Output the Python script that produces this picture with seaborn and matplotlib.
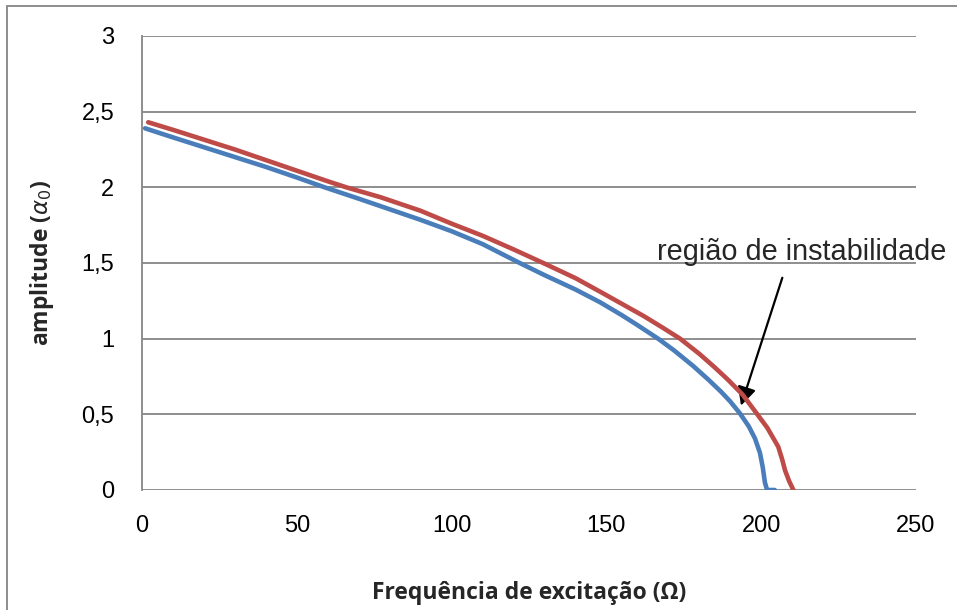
import numpy as np
import pandas as pd
import seaborn as sns
import matplotlib.pyplot as plt
from matplotlib.patches import Rectangle

# values
freq_blue = [1, 10, 20, 30, 40, 50, 59, 70, 80, 90, 100, 110, 122, 130, 140, 148, 155,
             160, 166.7, 172, 178, 182.9, 187, 190, 193.1, 196, 198, 199.6, 200.5,
             201.2, 201.9, 204.4]
amp_blue = [2.39, 2.33, 2.265, 2.20, 2.135, 2.065, 2.00, 1.925, 1.855, 1.785, 1.71,
            1.625, 1.50, 1.42, 1.325, 1.24, 1.155, 1.09, 1.00, 0.92, 0.82, 0.73,
            0.65, 0.585, 0.507, 0.42, 0.34, 0.245, 0.15, 0.05, 0.0, 0.0]

freq_red = [2, 10, 20, 30, 40, 50, 60, 66, 77, 90, 100, 110, 120, 129.6, 140, 148, 155,
            162, 168, 173.8, 180, 185, 189.3, 194, 198.5, 202, 205.5, 206.8, 207.7,
            209, 210.4]
amp_red = [2.43, 2.38, 2.315, 2.25, 2.18, 2.11, 2.04, 2.00, 1.935, 1.845, 1.76, 1.68,
           1.59, 1.50, 1.40, 1.31, 1.23, 1.15, 1.075, 1.00, 0.90, 0.81, 0.728, 0.63,
           0.507, 0.41, 0.286, 0.20, 0.13, 0.06, 0.0]

x_ticks = [0, 50, 100, 150, 200, 250]
y_ticks = [0, 0.5, 1, 1.5, 2, 2.5, 3]
y_tick_labels = ['0', '0,5', '1', '1,5', '2', '2,5', '3']

blue = pd.DataFrame({'freq': freq_blue, 'amp': amp_blue})
red = pd.DataFrame({'freq': freq_red, 'amp': amp_red})

sns.set_style("white")
plt.rcParams['font.family'] = ['Liberation Sans', 'DejaVu Sans']

fig = plt.figure(figsize=(9.57, 6.10), dpi=100)
ax = fig.add_axes([142/957, 1 - 490/610, (916 - 142)/957, (490 - 36)/610])

sns.lineplot(data=blue, x='freq', y='amp', color='#4A7EBB', lw=3.3, ax=ax,
             solid_capstyle='round', solid_joinstyle='round', zorder=3)
sns.lineplot(data=red, x='freq', y='amp', color='#BE4B48', lw=3.3, ax=ax,
             solid_capstyle='round', solid_joinstyle='round', zorder=4)

ax.set_xlim(0, 250)
ax.set_ylim(0, 3)
ax.set_xticks(x_ticks)
ax.set_yticks(y_ticks)
ax.set_yticklabels(y_tick_labels)
ax.tick_params(length=0, labelsize=17, colors='black')
ax.tick_params(axis='y', pad=20)
ax.tick_params(axis='x', pad=18)

ax.grid(axis='y', color='#868686', lw=1.3)
ax.grid(axis='x', visible=False)
for s in ['top', 'right', 'bottom']:
    ax.spines[s].set_visible(False)
ax.spines['left'].set_color('#868686')
ax.spines['left'].set_linewidth(1.3)

ax.set_xlabel('Frequência de excitação (Ω)', fontsize=16.5, fontweight='bold',
              family=['Open Sans', 'DejaVu Sans'], labelpad=32)
ax.set_ylabel(r'amplitude ($\alpha_0$)', fontsize=16.5, fontweight='bold',
              family=['Open Sans', 'DejaVu Sans'], labelpad=18)

# annotation
ax.text(166.4, 1.575, 'região de instabilidade', fontsize=20.8, ha='left', va='center')
ax.annotate('', xy=(193.2, 0.54), xytext=(207.1, 1.42),
            arrowprops=dict(arrowstyle='-|>', lw=1.6, color='black', mutation_scale=28))

# outer chart frame (only left and top edges fall inside the image)
fig.add_artist(Rectangle((7/957, -0.5), 2, 1.5 - 6/610, transform=fig.transFigure,
                         fill=False, edgecolor='#868686', lw=1.3))

fig.savefig('out.png', dpi=100)
